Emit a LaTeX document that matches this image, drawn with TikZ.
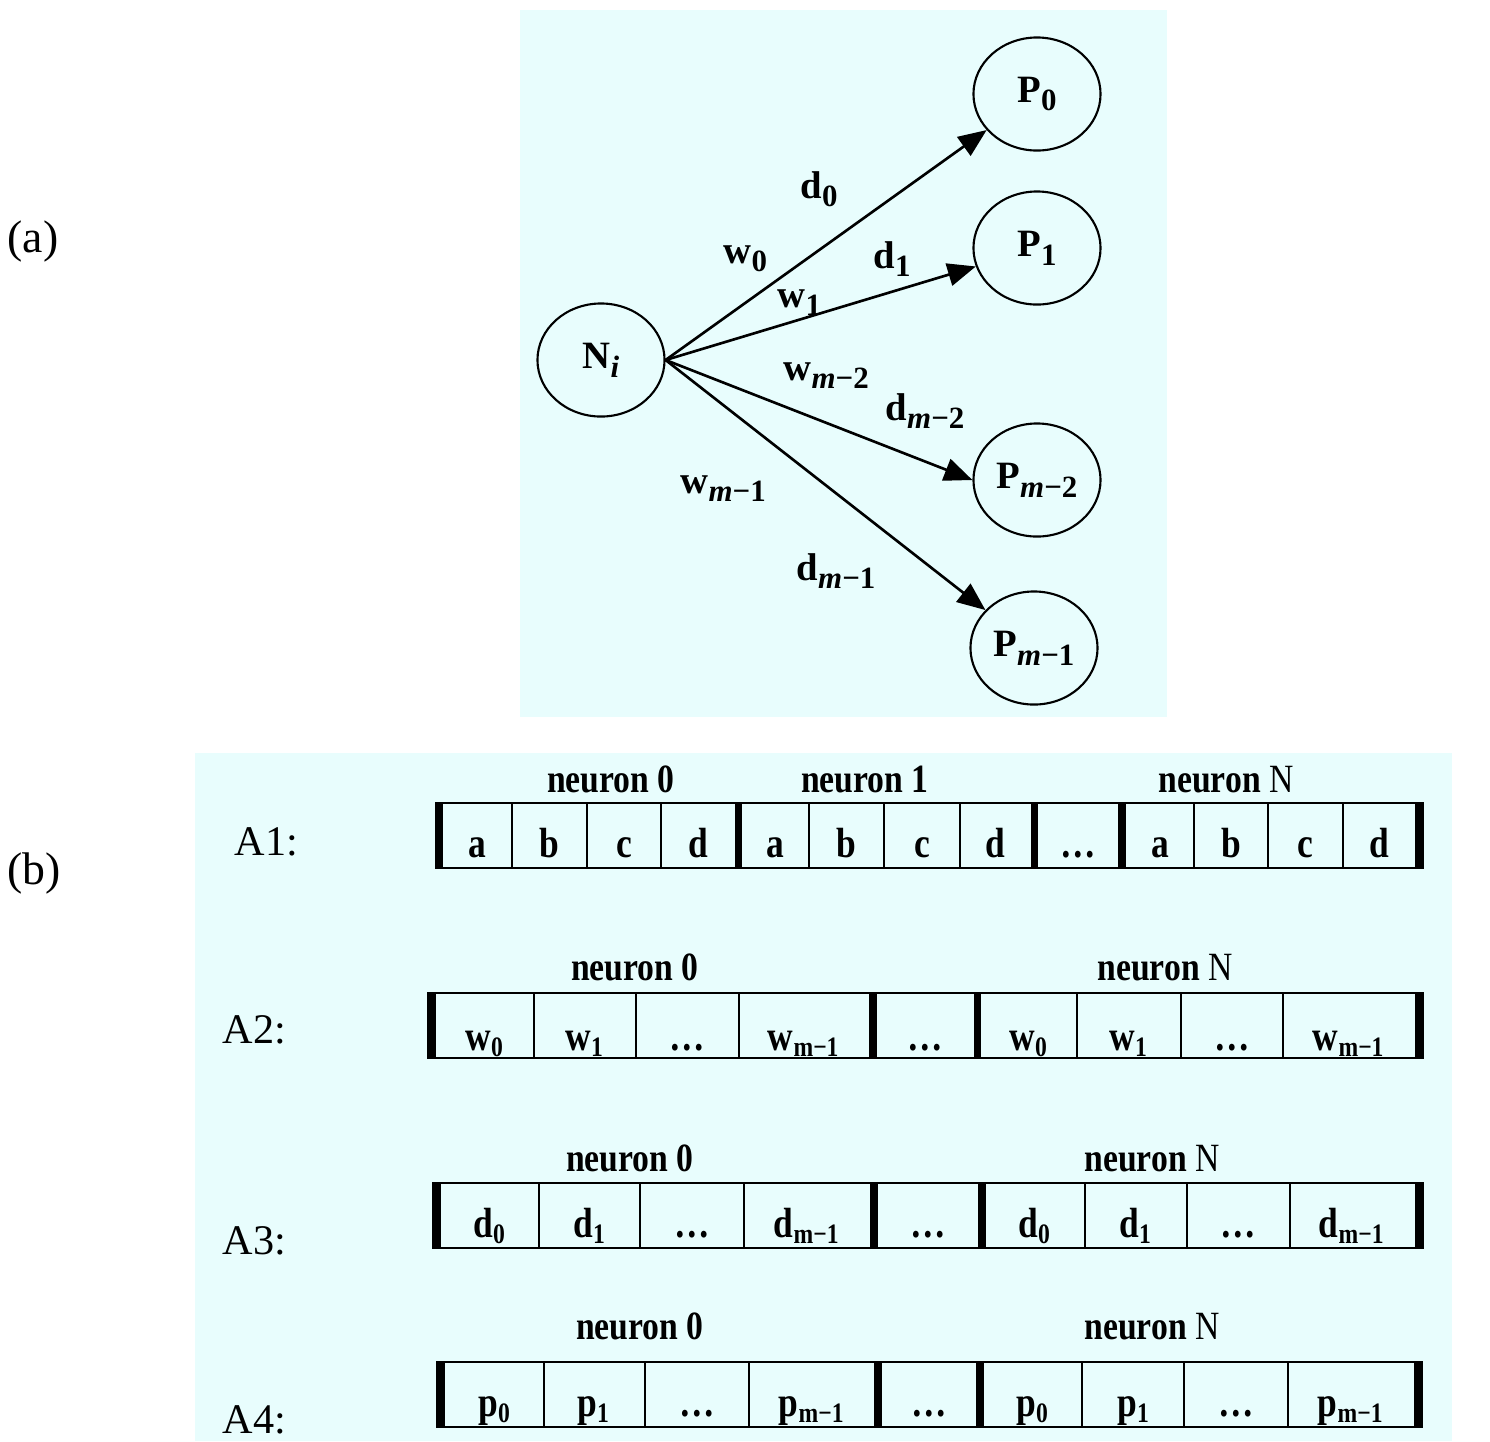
\documentclass[tikz,border=0pt]{standalone}
\usepackage{fontspec}
\usepackage{graphicx}
\setmainfont{Liberation Serif}
\usetikzlibrary{arrows.meta,shapes.geometric}
\definecolor{panelbg}{RGB}{232,253,253}
\newcommand{\cx}[1]{\scalebox{0.84}[1]{#1}}
\newcommand{\sbx}[1]{\raisebox{-0.5ex}{\fontsize{8.8}{10}\selectfont #1}}
\begin{document}
\begin{tikzpicture}[x=0.01cm,y=-0.01cm,
  bubble/.style={draw, line width=0.6pt, ellipse, minimum width=1.27cm, minimum height=1.13cm, inner sep=0pt, font=\fontsize{11}{13}\selectfont\bfseries},
  arr/.style={line width=0.75pt, -{Triangle[length=8pt,width=6.5pt]}},
  elabel/.style={anchor=base west, inner sep=0pt, font=\fontsize{11}{13}\selectfont\bfseries},
  rowlabel/.style={anchor=base west, inner sep=0pt, font=\fontsize{12}{14}\selectfont},
  panellabel/.style={anchor=base west, inner sep=0pt, font=\fontsize{13}{15}\selectfont},
  neuronlabel/.style={anchor=base, inner sep=0pt, font=\fontsize{11.4}{13}\selectfont\bfseries},
  celltext/.style={anchor=base, inner sep=0pt, font=\fontsize{12}{14}\selectfont\bfseries},
  cellline/.style={line width=0.65pt},
  bar/.style={fill=black},
]
\useasboundingbox (0,0) rectangle (1490,1441);
\fill[white] (0,0) rectangle (1490,1441);
% panel backgrounds
\fill[panelbg] (520,10) rectangle (1167,717);
\fill[panelbg] (195,753) rectangle (1452,1441);

% panel labels
\node[panellabel] (la) at (7,252) {(a)};
\node[panellabel] (lb) at (7,884) {(b)};

% ---------- panel (a) ----------
\node[bubble] (Ni) at (601,360) {N\sbx{\textit{i}}};
\node[bubble] (P0) at (1037,94) {P\sbx{0}};
\node[bubble] (P1) at (1037,248) {P\sbx{1}};
\node[bubble] (Pm2) at (1037,480) {P\sbx{\textit{m}−2}};
\node[bubble] (Pm1) at (1034,648) {P\sbx{\textit{m}−1}};

\draw[arr] (Ni.east) -- (P0);
\draw[arr] (Ni.east) -- (P1);
\draw[arr] (Ni.east) -- (Pm2.west);
\draw[arr] (Ni.east) -- (Pm1);

\node[elabel] (ld0) at (800,198) {d\sbx{0}};
\node[elabel] (lw0) at (723,263) {w\sbx{0}};
\node[elabel] (ld1) at (873,268) {d\sbx{1}};
\node[elabel] (lw1) at (777,307) {w\sbx{1}};
\node[elabel] (lwm2) at (783,380) {w\sbx{\textit{m}−2}};
\node[elabel] (ldm2) at (885,420) {d\sbx{\textit{m}−2}};
\node[elabel] (lwm1) at (680,493) {w\sbx{\textit{m}−1}};
\node[elabel] (ldm1) at (796,580) {d\sbx{\textit{m}−1}};

% ---------- panel (b) ----------
% row labels
\node[rowlabel] (A1) at (234,855) {A1:};
\node[rowlabel] (A2) at (222,1043) {A2:};
\node[rowlabel] (A3) at (222,1254) {A3:};
\node[rowlabel] (A4) at (222,1433) {A4:};

% neuron labels
\node[neuronlabel] (n10) at (611,792) {\cx{neuron 0}};
\node[neuronlabel] (n11) at (865,792) {\cx{neuron 1}};
\node[neuronlabel] (n1N) at (1226,792) {\cx{neuron {\mdseries N}}};
\node[neuronlabel] (n20) at (635,980) {\cx{neuron 0}};
\node[neuronlabel] (n2N) at (1165,980) {\cx{neuron {\mdseries N}}};
\node[neuronlabel] (n30) at (630,1171) {\cx{neuron 0}};
\node[neuronlabel] (n3N) at (1152,1171) {\cx{neuron {\mdseries N}}};
\node[neuronlabel] (n40) at (640,1339) {\cx{neuron 0}};
\node[neuronlabel] (n4N) at (1152,1339) {\cx{neuron {\mdseries N}}};

% row A1
\draw[cellline] (436,803) rectangle (1423,868);
\foreach \x in {512,587,661,809,884,960,1194,1268,1343}
  \draw[cellline] (\x,803) -- (\x,868);
\foreach \a/\b in {436/443,735/742,1031/1038,1118/1126,1415/1423}
  \fill[bar] (\a,803) rectangle (\b,868);
\foreach \x/\t [count=\i] in {477/a,549/b,624/c,698/d,775/a,846/b,922/c,995/d,1078/\dots,1160/a,1231/b,1305/c,1379/d}
  \node[celltext] (ra\i) at (\x,857) {\cx{\t}};

% row A2
\draw[cellline] (428,993) rectangle (1423,1058);
\foreach \x in {534,636,739,1077,1181,1283}
  \draw[cellline] (\x,993) -- (\x,1058);
\foreach \a/\b in {428/436,869/877,974/981,1415/1423}
  \fill[bar] (\a,993) rectangle (\b,1058);
\foreach \x/\t [count=\i] in {485/{w\textsubscript{0}},585/{w\textsubscript{1}},687/\dots,804/{w\textsubscript{m−1}},925/\dots,1029/{w\textsubscript{0}},1129/{w\textsubscript{1}},1232/\dots,1349/{w\textsubscript{m−1}}}
  \node[celltext] (rb\i) at (\x,1050) {\cx{\t}};

% row A3
\draw[cellline] (433,1183) rectangle (1423,1248);
\foreach \x in {539,640,744,1085,1187,1290}
  \draw[cellline] (\x,1183) -- (\x,1248);
\foreach \a/\b in {433/441,870/878,978/986,1415/1423}
  \fill[bar] (\a,1183) rectangle (\b,1248);
\foreach \x/\t [count=\i] in {490/{d\textsubscript{0}},590/{d\textsubscript{1}},692/\dots,807/{d\textsubscript{m−1}},928/\dots,1035/{d\textsubscript{0}},1136/{d\textsubscript{1}},1238/\dots,1352/{d\textsubscript{m−1}}}
  \node[celltext] (rc\i) at (\x,1237) {\cx{\t}};

% row A4
\draw[cellline] (437,1362) rectangle (1422,1427);
\foreach \x in {544,645,749,1082,1184,1288}
  \draw[cellline] (\x,1362) -- (\x,1427);
\foreach \a/\b in {437/445,874/882,976/984,1414/1422}
  \fill[bar] (\a,1362) rectangle (\b,1427);
\foreach \x/\t [count=\i] in {495/{p\textsubscript{0}},594/{p\textsubscript{1}},697/\dots,812/{p\textsubscript{m−1}},929/\dots,1033/{p\textsubscript{0}},1134/{p\textsubscript{1}},1236/\dots,1351/{p\textsubscript{m−1}}}
  \node[celltext] (rd\i) at (\x,1416) {\cx{\t}};
\end{tikzpicture}
\end{document}
